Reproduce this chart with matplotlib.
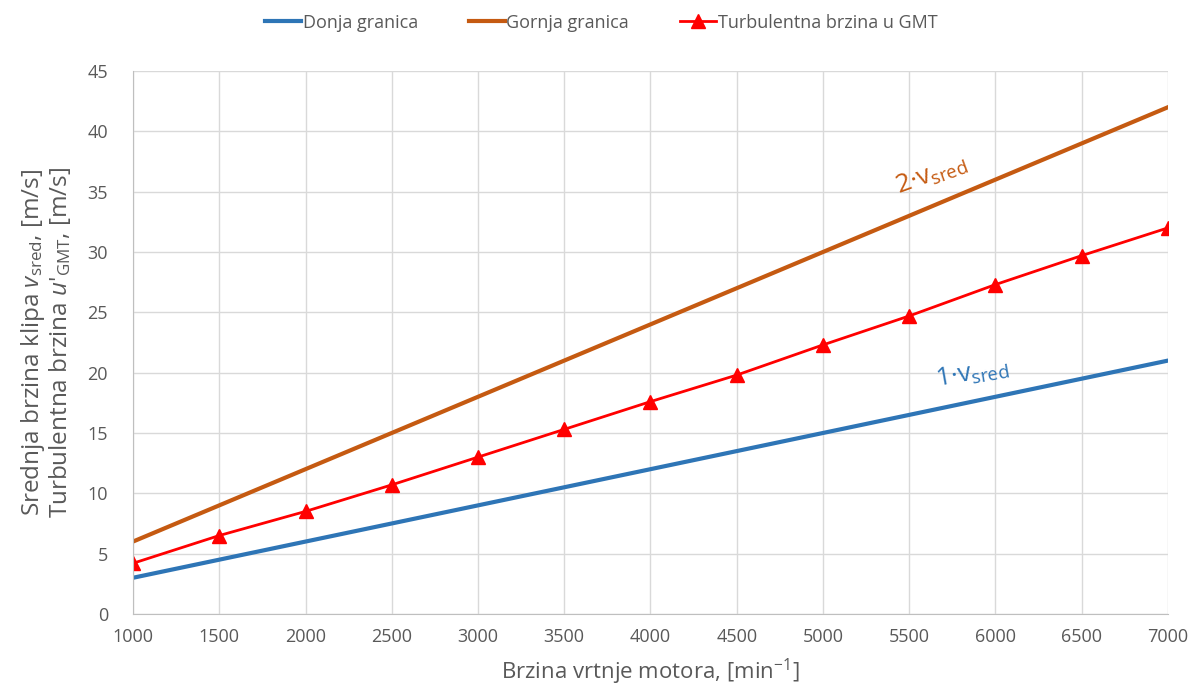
import matplotlib.pyplot as plt

plt.rcParams['font.family'] = ['Open Sans', 'DejaVu Sans']
plt.rcParams['mathtext.fontset'] = 'custom'
plt.rcParams['mathtext.rm'] = 'Open Sans'
plt.rcParams['mathtext.it'] = 'Open Sans:italic'

# data
rpm = [1000, 1500, 2000, 2500, 3000, 3500, 4000, 4500, 5000, 5500, 6000, 6500, 7000]
donja = [3.0, 4.5, 6.0, 7.5, 9.0, 10.5, 12.0, 13.5, 15.0, 16.5, 18.0, 19.5, 21.0]
gornja = [6.0, 9.0, 12.0, 15.0, 18.0, 21.0, 24.0, 27.0, 30.0, 33.0, 36.0, 39.0, 42.0]
turb = [4.2, 6.5, 8.5, 10.7, 13.0, 15.3, 17.6, 19.8, 22.3, 24.7, 27.3, 29.7, 32.0]

txt = '#595959'
grid_c = '#D9D9D9'

fig = plt.figure(figsize=(11.95, 6.88), dpi=100)
ax = fig.add_axes([0.1113, 0.1076, 0.8661, 0.7892])

ax.plot(rpm, donja, color='#2E75B6', lw=3, label='Donja granica')
ax.plot(rpm, gornja, color='#C55A11', lw=3, label='Gornja granica')
ax.plot(rpm, turb, color='#FF0000', lw=2, marker='^', markersize=10,
        label='Turbulentna brzina u GMT')

ax.set_xlim(1000, 7000)
ax.set_ylim(0, 45)
ax.set_xticks(range(1000, 7001, 500))
ax.set_yticks(range(0, 46, 5))
ax.grid(True, color=grid_c, lw=1)
ax.set_axisbelow(True)
ax.tick_params(length=0, labelsize=13, labelcolor=txt)
ax.tick_params(axis='x', pad=10)
ax.tick_params(axis='y', pad=18)
for s in ['top', 'right']:
    ax.spines[s].set_visible(False)
for s in ['left', 'bottom']:
    ax.spines[s].set_color('#BFBFBF')

ax.set_xlabel(r'Brzina vrtnje motora, [min$^{-1}$]', fontsize=16, color=txt, labelpad=8)
ax.set_ylabel('Srednja brzina klipa $\\mathit{v}_{\\mathrm{sred}}$, [m/s]\n'
              "Turbulentna brzina $\\mathit{u}$'$_{\\mathrm{GMT}}$, [m/s]",
              fontsize=17.5, color=txt, labelpad=10, linespacing=1.0)

ax.text(5400, 34.3, '2·v$_{\\mathrm{sred}}$', color='#C55A11',
        fontsize=19, rotation=20, ha='left', va='bottom')
ax.text(5640, 18.3, '1·v$_{\\mathrm{sred}}$', color='#2E75B6',
        fontsize=19, rotation=10, ha='left', va='bottom')

leg = fig.legend(*ax.get_legend_handles_labels(), loc='center', bbox_to_anchor=(0.503, 0.967),
                 ncol=3, frameon=False, fontsize=13, handlelength=2.0,
                 handletextpad=0.1, columnspacing=2.8)
for t in leg.get_texts():
    t.set_color(txt)

fig.savefig('out.png', dpi=100)
